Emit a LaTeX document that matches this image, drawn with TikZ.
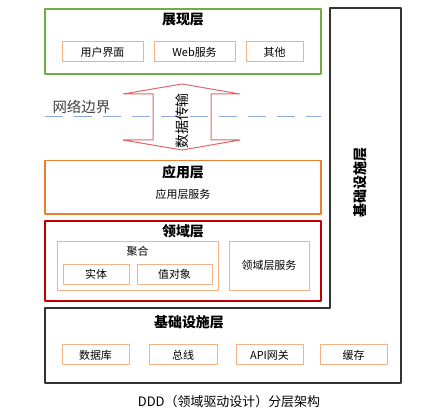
\documentclass[tikz,border=0pt]{standalone}
\usepackage{fontspec}
\setmainfont{Noto Sans CJK SC}
\definecolor{grn}{HTML}{70AD47}
\definecolor{org}{HTML}{ED7D31}
\definecolor{lorg}{HTML}{F4B183}
\definecolor{dred}{HTML}{C00000}
\definecolor{lred}{HTML}{E06666}
\definecolor{lblue}{HTML}{8FAADC}
\begin{document}
\begin{tikzpicture}[line join=bevel,
  layer/.style={draw,rectangle,minimum width=276bp,line width=1.5bp,inner sep=0pt},
  item/.style={draw=lorg,rectangle,line width=1bp,minimum height=20bp,inner sep=0pt,font=\fontsize{11}{13}\selectfont},
  ttl/.style={font=\fontsize{14}{16}\selectfont\bfseries},
  txt/.style={font=\fontsize{11}{13}\selectfont},
]
\useasboundingbox (0bp,0bp) rectangle (439bp,412bp);
%%
\draw [line width=2bp,draw=black!80] (330bp,404bp) -- (401bp,404bp) -- (401bp,29bp) -- (45bp,29bp) -- (45bp,104bp) -- (330bp,104bp) -- cycle;
  \node (infv) at (360bp,229.5bp) [ttl,rotate=90] {基础设施层};
%
\node (pres) at (183bp,370.5bp) [layer,draw=grn,minimum height=65bp] {};
  \node (prest) at (183bp,392bp) [ttl] {展现层};
  \node (ui) at (102.5bp,360bp) [item,minimum width=81bp] {用户界面};
  \node (web) at (194.5bp,360bp) [item,minimum width=81bp] {Web服务};
  \node (oth) at (274.5bp,360bp) [item,minimum width=57bp] {其他};
%
\coordinate (nb1) at (45bp,295bp);
  \coordinate (nb2) at (321bp,295bp);
  \draw [lblue,line width=1bp,dash pattern=on 18bp off 11bp] (nb1) -- (nb2);
  \node (nbt) at (49bp,305bp) [anchor=west,text=black!75,font=\fontsize{14.5}{16}\selectfont] {网络边界};
%
\draw [lred,line width=1bp] (182bp,328bp) -- (123bp,318bp) -- (153bp,318bp) -- (153bp,272bp) -- (123bp,272bp) -- (182bp,262bp) -- (240bp,272bp) -- (211bp,272bp) -- (211bp,318bp) -- (240bp,318bp) -- cycle;
  \node (dt) at (182bp,291bp) [rotate=90,font=\fontsize{14}{16}\selectfont] {数据传输};
%
\node (app) at (183bp,224.7bp) [layer,draw=org,minimum height=53.3bp] {};
  \node (appt) at (183bp,240bp) [ttl] {应用层};
  \node (apps) at (183bp,218bp) [txt] {应用层服务};
%
\node (dom) at (183bp,151.2bp) [layer,draw=dred,line width=2bp,minimum height=80.3bp] {};
  \node (domt) at (183bp,180.3bp) [ttl] {领域层};
  \node (agg) at (137.5bp,146.3bp) [item,minimum width=161bp,minimum height=48.7bp] {};
  \node (aggt) at (137.5bp,161bp) [txt] {聚合};
  \node (ent) at (96bp,137.7bp) [item,minimum width=66bp] {实体};
  \node (vo) at (174.5bp,137.7bp) [item,minimum width=75bp] {值对象};
  \node (dsvc) at (269bp,146.3bp) [item,minimum width=80bp,minimum height=48.7bp] {领域层服务};
%
\node (inft) at (189bp,90bp) [ttl] {基础设施层};
  \node (db) at (95.5bp,57bp) [item,minimum width=67bp] {数据库};
  \node (bus) at (183bp,57bp) [item,minimum width=68bp] {总线};
  \node (api) at (269.5bp,57bp) [item,minimum width=67bp] {API网关};
  \node (cache) at (353.5bp,57bp) [item,minimum width=67bp] {缓存};
%
\node (cap) at (229bp,10bp) [font=\fontsize{13}{15}\selectfont] {DDD（领域驱动设计）分层架构};
%
\end{tikzpicture}
\end{document}
